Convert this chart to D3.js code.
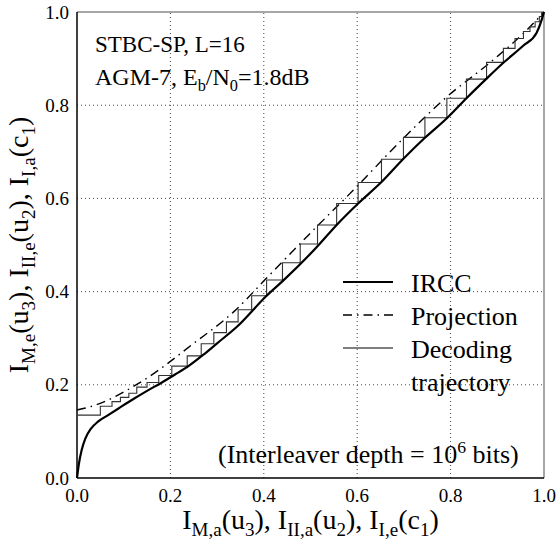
<!DOCTYPE html>
<html>
<head>
<meta charset="utf-8">
<script src="https://cdn.jsdelivr.net/npm/d3@7"></script>
<style>
  body { margin: 0; background: #fff; }
</style>
</head>
<body>
<div id="chart"></div>
<script>
// IRCC transfer curve (outer code, axes swapped)
const irccX = [0, 0.004, 0.01, 0.018, 0.03, 0.045, 0.065, 0.09, 0.12, 0.15, 0.18, 0.21, 0.24, 0.27, 0.3, 0.343, 0.406, 0.442, 0.513, 0.556, 0.602, 0.652, 0.699, 0.745, 0.792, 0.834, 0.877, 0.913, 0.956, 0.984, 0.995, 1];
const irccY = [0, 0.03, 0.06, 0.085, 0.106, 0.121, 0.134, 0.15, 0.169, 0.187, 0.204, 0.222, 0.241, 0.264, 0.289, 0.325, 0.391, 0.424, 0.495, 0.543, 0.589, 0.635, 0.685, 0.73, 0.772, 0.815, 0.857, 0.891, 0.928, 0.955, 0.983, 1];

// projection curve (dash-dot)
const projX = [0, 0.029, 0.143, 0.25, 0.336, 0.406, 0.513, 0.592, 0.692, 0.784, 0.891, 0.963, 1];
const projY = [0.146, 0.153, 0.21, 0.289, 0.357, 0.429, 0.539, 0.618, 0.722, 0.811, 0.897, 0.961, 1];

// decoding trajectory: step k goes (x[k], y[k]) -> (x[k+1], y[k]) -> (x[k+1], y[k+1])
const trajX = [0, 0.05, 0.075, 0.093, 0.111, 0.128, 0.150, 0.175, 0.203, 0.236, 0.266, 0.293, 0.320, 0.345, 0.374, 0.406, 0.440, 0.478, 0.515, 0.556, 0.602, 0.652, 0.699, 0.745, 0.792, 0.834, 0.877, 0.913, 0.938, 0.956, 0.970, 0.981, 0.990, 0.995];
const trajY = [0.135, 0.154, 0.164, 0.173, 0.182, 0.195, 0.205, 0.220, 0.240, 0.262, 0.288, 0.312, 0.335, 0.361, 0.391, 0.425, 0.462, 0.502, 0.543, 0.589, 0.634, 0.684, 0.731, 0.773, 0.815, 0.856, 0.892, 0.922, 0.943, 0.958, 0.968, 0.979, 0.990, 1.0];

const ticks = [0, 0.2, 0.4, 0.6, 0.8, 1.0];
const legendNames = ["IRCC", "Projection", "Decoding"];

const width = 558, height = 542;
const margin = { top: 12, right: 14, bottom: 64, left: 77 };
const FONT = "'Liberation Serif', 'DejaVu Serif', 'Times New Roman', Times, serif";

const svg = d3.select("#chart").append("svg")
  .attr("width", width).attr("height", height)
  .attr("viewBox", `0 0 ${width} ${height}`)
  .attr("font-family", FONT)
  .style("font-family", FONT);

svg.append("rect").attr("width", width).attr("height", height).attr("fill", "#fff");

const x = d3.scaleLinear().domain([0, 1]).range([margin.left, width - margin.right]);
const y = d3.scaleLinear().domain([0, 1]).range([height - margin.bottom, margin.top]);

// grid
svg.append("g").selectAll("line.gx").data(ticks.slice(1, -1)).join("line")
  .attr("x1", d => x(d)).attr("x2", d => x(d)).attr("y1", y(0)).attr("y2", y(1))
  .attr("stroke", "#444").attr("stroke-width", 1).attr("stroke-dasharray", "1,3");
svg.append("g").selectAll("line.gy").data(ticks.slice(1, -1)).join("line")
  .attr("y1", d => y(d)).attr("y2", d => y(d)).attr("x1", x(0)).attr("x2", x(1))
  .attr("stroke", "#444").attr("stroke-width", 1).attr("stroke-dasharray", "1,3");

// frame
svg.append("line").attr("x1", x(0)).attr("x2", x(1)).attr("y1", y(1)).attr("y2", y(1))
  .attr("stroke", "#888").attr("stroke-width", 1.5);
svg.append("line").attr("x1", x(1)).attr("x2", x(1)).attr("y1", y(0)).attr("y2", y(1))
  .attr("stroke", "#888").attr("stroke-width", 1.5);
svg.append("line").attr("x1", x(0)).attr("x2", x(1)).attr("y1", y(0)).attr("y2", y(0))
  .attr("stroke", "#000").attr("stroke-width", 1.5);
svg.append("line").attr("x1", x(0)).attr("x2", x(0)).attr("y1", y(0)).attr("y2", y(1))
  .attr("stroke", "#000").attr("stroke-width", 1.5);

// tick labels
svg.append("g").selectAll("text").data(ticks).join("text")
  .attr("x", d => x(d)).attr("y", y(0) + 24)
  .attr("text-anchor", "middle").style("font-size", "19px")
  .text(d => d.toFixed(1));
svg.append("g").selectAll("text").data(ticks).join("text")
  .attr("x", x(0) - 8).attr("y", d => y(d) + 6.5)
  .attr("text-anchor", "end").style("font-size", "19px")
  .text(d => d.toFixed(1));

// rich text with subscripts / superscripts
function rich(sel, parts, size) {
  sel.style("font-size", size + "px");
  let shift = 0;
  parts.forEach(p => {
    const target = p.sub ? size * 0.25 : p.sup ? -size * 0.4 : 0;
    sel.append("tspan")
      .attr("dy", target - shift)
      .style("font-size", (p.sub || p.sup ? size * 0.68 : size) + "px")
      .text(p.t);
    shift = target;
  });
}

const lineGen = d3.line().x(d => x(d[0])).y(d => y(d[1])).curve(d3.curveMonotoneX);

// projection
svg.append("path").datum(d3.zip(projX, projY))
  .attr("d", lineGen).attr("fill", "none").attr("stroke", "#000")
  .attr("stroke-width", 1.4).attr("stroke-dasharray", "9,5,1.5,5");

// trajectory
const trajPts = [];
trajX.forEach((tx, i) => {
  trajPts.push([tx, trajY[i]]);
  if (i < trajX.length - 1) trajPts.push([trajX[i + 1], trajY[i]]);
});
svg.append("path").datum(trajPts)
  .attr("d", d3.line().x(d => x(d[0])).y(d => y(d[1])))
  .attr("fill", "none").attr("stroke", "#333").attr("stroke-width", 1.1);

// IRCC
svg.append("path").datum(d3.zip(irccX, irccY))
  .attr("d", lineGen).attr("fill", "none").attr("stroke", "#000")
  .attr("stroke-width", 2.2);

// legend
const legX = 343, legY = 282, legGap = 33;
const legStyles = [
  { w: 2.2, dash: null },
  { w: 1.4, dash: "9,5,1.5,5" },
  { w: 1.1, dash: null }
];
legendNames.forEach((name, i) => {
  const ly = legY + i * legGap;
  svg.append("line").attr("x1", legX).attr("x2", legX + 50).attr("y1", ly).attr("y2", ly)
    .attr("stroke", "#000").attr("stroke-width", legStyles[i].w)
    .attr("stroke-dasharray", legStyles[i].dash);
  svg.append("text").attr("x", legX + 68).attr("y", ly + 9.5)
    .style("font-size", "26px").text(name);
});
svg.append("text").attr("x", legX + 68).attr("y", legY + 3 * legGap + 9.5)
  .style("font-size", "26px").text("trajectory");

// annotations
svg.append("text").attr("x", 95).attr("y", 52).style("font-size", "23px").text("STBC-SP, L=16");
rich(svg.append("text").attr("x", 95).attr("y", 85),
  [{ t: "AGM-7, E" }, { t: "b", sub: true }, { t: "/N" }, { t: "0", sub: true }, { t: "=1.8dB" }], 24);

rich(svg.append("text").attr("x", 218).attr("y", 463),
  [{ t: "(Interleaver depth = 10" }, { t: "6", sup: true }, { t: " bits)" }], 26);

// axis titles
rich(svg.append("text").attr("x", (x(0) + x(1)) / 2).attr("y", 529).attr("text-anchor", "middle"),
  [{ t: "I" }, { t: "M,a", sub: true }, { t: "(u" }, { t: "3", sub: true }, { t: "), I" },
   { t: "II,a", sub: true }, { t: "(u" }, { t: "2", sub: true }, { t: "), I" },
   { t: "I,e", sub: true }, { t: "(c" }, { t: "1", sub: true }, { t: ")" }], 28);

rich(svg.append("text").attr("transform", `translate(28, ${(y(0) + y(1)) / 2}) rotate(-90)`)
  .attr("text-anchor", "middle"),
  [{ t: "I" }, { t: "M,e", sub: true }, { t: "(u" }, { t: "3", sub: true }, { t: "), I" },
   { t: "II,e", sub: true }, { t: "(u" }, { t: "2", sub: true }, { t: "), I" },
   { t: "I,a", sub: true }, { t: "(c" }, { t: "1", sub: true }, { t: ")" }], 28);
</script>
</body>
</html>
